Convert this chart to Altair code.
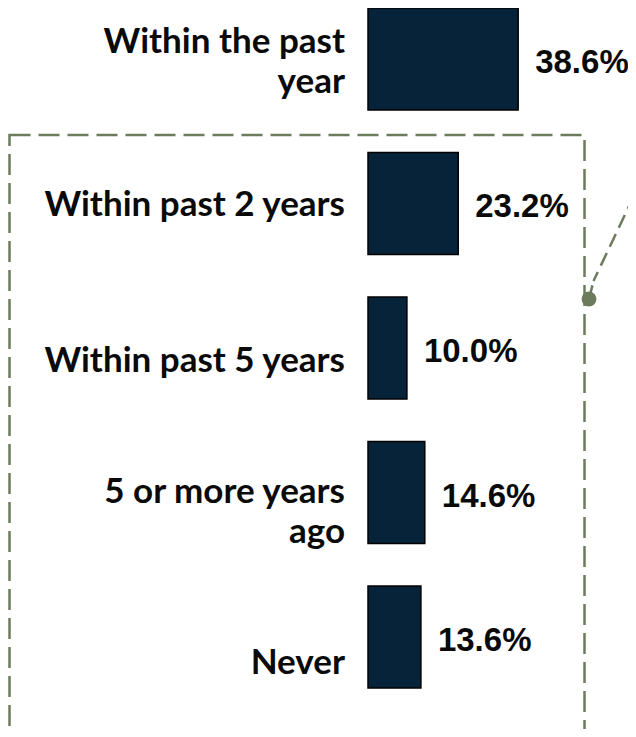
import altair as alt
import pandas as pd

# ---- data ----
categories = [
    "Within the past\nyear",
    "Within past 2 years",
    "Within past 5 years",
    "5 or more years\nago",
    "Never",
]
values = [38.6, 23.2, 10.0, 14.6, 13.6]
value_labels = ["38.6%", "23.2%", "10.0%", "14.6%", "13.6%"]

df = pd.DataFrame({"category": categories, "value": values, "vlabel": value_labels})

# ---- styling ----
BAR = "#06233a"
TEXT = "#0a0a0a"
OLIVE = "#6b7b5b"
label_dy = [-17, 2, 13, -1, 26]  # per-row vertical nudge of the category labels

W, H = 620, 721

x_scale = alt.Scale(domain=[-92.545, (W - 360) / 3.89], nice=False, zero=False)
y_scale = alt.Scale(range=[-21.25, 701.25], paddingInner=0.2941, paddingOuter=0.147)

X = alt.X("value:Q", scale=x_scale, axis=None)
Y = alt.Y("category:N", sort=categories, scale=y_scale, axis=None)

base = alt.Chart(df)

bars = base.mark_bar(color=BAR, stroke="#000000", strokeWidth=1.5).encode(
    x=alt.X("zero:Q", scale=x_scale, axis=None), x2="value:Q", y=Y
).transform_calculate(zero="0")

vals = base.mark_text(
    align="left", baseline="middle", dx=17, dy=4,
    font="Liberation Sans", fontWeight="bold", fontSize=33, color=TEXT,
).encode(x=X, y=Y, text="vlabel:N")

label_layers = []
for cat, dy in zip(categories, label_dy):
    label_layers.append(
        base.mark_text(
            align="right", baseline="middle", dx=-23, dy=dy, lineBreak="\n",
            lineHeight=40, font="Lato", fontWeight="bold", fontSize=35, color=TEXT,
        ).encode(
            x=alt.datum(0, scale=x_scale), y=Y, text="category:N"
        ).transform_filter(alt.datum.category == cat)
    )

one = alt.Chart(pd.DataFrame({"a": [0]}))
box = one.mark_rect(
    fillOpacity=0, stroke=OLIVE, strokeWidth=2.5, strokeDash=[21, 8]
).encode(x=alt.value(1.5), x2=alt.value(576.5), y=alt.value(127), y2=alt.value(790))

connector_low = one.mark_rule(
    stroke=OLIVE, strokeWidth=2.5, strokeDash=[14, 7]
).encode(x=alt.value(581), y=alt.value(291), x2=alt.value(585.5), y2=alt.value(273))

connector_high = one.mark_rule(
    stroke=OLIVE, strokeWidth=2.5, strokeDash=[14, 7], strokeDashOffset=4
).encode(x=alt.value(585.5), y=alt.value(273), x2=alt.value(632), y2=alt.value(175))

dot = one.mark_circle(color=OLIVE, opacity=1, size=220).encode(
    x=alt.value(581), y=alt.value(291)
)

chart = alt.layer(box, connector_low, connector_high, dot, bars, vals, *label_layers).properties(
    width=W, height=H, padding=0, autosize=alt.AutoSizeParams(type="none")
).configure_view(stroke=None)

chart.save("out.html", embed_options={"renderer": "svg", "actions": False})
